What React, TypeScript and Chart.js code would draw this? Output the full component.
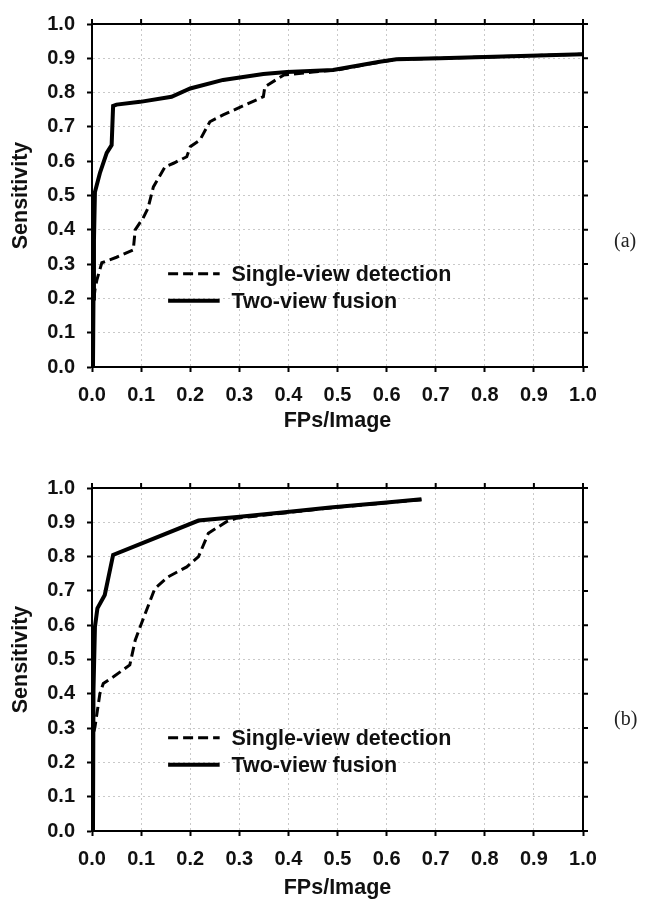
import React, { useEffect, useRef } from "react";
import { Chart, registerables } from "chart.js";

Chart.register(...registerables);

// ---------- Data ----------
const seriesLabels = ["Single-view detection", "Two-view fusion"];
const xTitle = "FPs/Image";
const yTitle = "Sensitivity";
const panelLabels = ["(a)", "(b)"];

// Panel (a)
const singleA_x = [0.004, 0.006, 0.01, 0.02, 0.05, 0.084, 0.088, 0.104, 0.114, 0.125, 0.149, 0.166, 0.193, 0.2, 0.22, 0.24, 0.267, 0.349, 0.352, 0.39, 0.45, 0.5, 0.57, 0.62, 0.709, 1.0];
const singleA_y = [0.2, 0.225, 0.254, 0.304, 0.32, 0.341, 0.4, 0.434, 0.463, 0.525, 0.584, 0.594, 0.613, 0.642, 0.662, 0.715, 0.735, 0.788, 0.817, 0.851, 0.86, 0.866, 0.885, 0.897, 0.9, 0.912];
const fusionA_x = [0.002, 0.003, 0.004, 0.006, 0.016, 0.03, 0.04, 0.043, 0.05, 0.098, 0.162, 0.2, 0.267, 0.349, 0.397, 0.491, 0.586, 0.62, 0.709, 1.0];
const fusionA_y = [0, 0.2, 0.37, 0.51, 0.565, 0.624, 0.647, 0.761, 0.765, 0.773, 0.788, 0.812, 0.837, 0.854, 0.86, 0.866, 0.89, 0.897, 0.9, 0.912];

// Panel (b)
const singleB_x = [0.004, 0.006, 0.016, 0.023, 0.043, 0.077, 0.088, 0.098, 0.128, 0.155, 0.193, 0.217, 0.237, 0.274, 0.295, 0.397, 0.485, 0.6, 0.671];
const singleB_y = [0.29, 0.303, 0.4, 0.43, 0.449, 0.484, 0.556, 0.595, 0.707, 0.741, 0.77, 0.8, 0.868, 0.902, 0.912, 0.928, 0.942, 0.957, 0.966];
const fusionB_x = [0.002, 0.003, 0.006, 0.011, 0.026, 0.043, 0.217, 0.301, 0.397, 0.485, 0.6, 0.671];
const fusionB_y = [0, 0.41, 0.595, 0.649, 0.688, 0.805, 0.905, 0.916, 0.93, 0.943, 0.958, 0.967];

const axisMin = 0;
const axisMax = 1;
const tickStep = 0.1;

// ---------- Helpers ----------
const zip = (xs: number[], ys: number[]) => xs.map((x, i) => ({ x, y: ys[i] }));

const FONT = "'Liberation Sans', Arial, Helvetica, sans-serif";

const framePlugin = {
  id: "frameTicks",
  afterDatasetsDraw(chart: any) {
    const { ctx, chartArea } = chart;
    const xs = chart.scales.x;
    const ys = chart.scales.y;
    ctx.save();
    ctx.strokeStyle = "#000";
    ctx.lineWidth = 2;
    ctx.beginPath();
    ctx.moveTo(chartArea.left - 1, chartArea.top);
    ctx.lineTo(chartArea.right, chartArea.top);
    ctx.lineTo(chartArea.right, chartArea.bottom + 1);
    ctx.stroke();
    const tl = 5;
    ctx.beginPath();
    xs.ticks.forEach((t: any) => {
      const px = xs.getPixelForValue(t.value);
      ctx.moveTo(px, chartArea.top);
      ctx.lineTo(px, chartArea.top - tl);
    });
    ys.ticks.forEach((t: any) => {
      const py = ys.getPixelForValue(t.value);
      ctx.moveTo(chartArea.right, py);
      ctx.lineTo(chartArea.right + tl, py);
    });
    ctx.stroke();
    ctx.restore();
  },
};

const legendPlugin = {
  id: "innerLegend",
  afterDraw(chart: any, _args: any, opts: any) {
    const { ctx } = chart;
    const xs = chart.scales.x;
    const ys = chart.scales.y;
    ctx.save();
    chart.data.datasets.forEach((ds: any, i: number) => {
      const y = ys.getPixelForValue(opts.rows[i]);
      const x0 = xs.getPixelForValue(opts.lineStart);
      const x1 = xs.getPixelForValue(opts.lineEnd);
      ctx.strokeStyle = ds.borderColor;
      ctx.lineWidth = ds.borderWidth;
      ctx.setLineDash(ds.borderDash || []);
      ctx.beginPath();
      ctx.moveTo(x0, y);
      ctx.lineTo(x1, y);
      ctx.stroke();
      ctx.setLineDash([]);
      ctx.fillStyle = "#111";
      ctx.font = `bold 21.5px ${FONT}`;
      ctx.textBaseline = "middle";
      ctx.textAlign = "left";
      ctx.fillText(ds.label, xs.getPixelForValue(opts.textStart), y + 1);
    });
    ctx.restore();
  },
};

type PanelProps = {
  single: { x: number; y: number }[];
  fusion: { x: number; y: number }[];
  height: number;
  padTop: number;
  xAxisHeight: number;
  titlePadBottom: number;
};

function Panel({ single, fusion, height, padTop, xAxisHeight, titlePadBottom }: PanelProps) {
  const ref = useRef<HTMLCanvasElement | null>(null);
  useEffect(() => {
    if (!ref.current) return;
    const gridCommon = {
      color: "#c9c9c9",
      lineWidth: 1,
      tickColor: "#000",
      tickWidth: 2,
      tickLength: 5,
      drawTicks: true,
    };
    const chart = new Chart(ref.current, {
      type: "line",
      data: {
        datasets: [
          {
            label: seriesLabels[0],
            data: single,
            borderColor: "#000",
            borderWidth: 3,
            borderDash: [10, 5],
            pointRadius: 0,
            tension: 0,
            fill: false,
          },
          {
            label: seriesLabels[1],
            data: fusion,
            borderColor: "#000",
            borderWidth: 4,
            pointRadius: 0,
            tension: 0,
            fill: false,
          },
        ],
      },
      options: {
        animation: false,
        responsive: false,
        devicePixelRatio: 1,
        layout: { padding: { left: 0, right: 69, top: padTop, bottom: 0 } },
        plugins: {
          legend: { display: false },
          tooltip: { enabled: false },
          innerLegend: { rows: [0.272, 0.193], lineStart: 0.155, lineEnd: 0.26, textStart: 0.284 },
        } as any,
        scales: {
          x: {
            type: "linear",
            min: axisMin,
            max: axisMax,
            afterFit: (s: any) => {
              s.height = xAxisHeight;
            },
            ticks: {
              stepSize: tickStep,
              padding: 11,
              color: "#111",
              font: { family: FONT, size: 20, weight: "bold" },
              callback: (v: any) => Number(v).toFixed(1),
              maxRotation: 0,
              autoSkip: false,
            },
            grid: gridCommon,
            border: { display: true, color: "#000", width: 2, dash: [2, 3] },
            title: {
              display: true,
              text: xTitle,
              color: "#111",
              font: { family: FONT, size: 21.5, weight: "bold" },
              padding: { top: 0, bottom: titlePadBottom },
            },
          },
          y: {
            type: "linear",
            min: axisMin,
            max: axisMax,
            afterFit: (s: any) => {
              s.width = 92;
            },
            ticks: {
              stepSize: tickStep,
              padding: 12,
              color: "#111",
              font: { family: FONT, size: 20, weight: "bold" },
              callback: (v: any) => Number(v).toFixed(1),
              autoSkip: false,
            },
            grid: gridCommon,
            border: { display: true, color: "#000", width: 2, dash: [2, 3] },
            title: {
              display: true,
              text: yTitle,
              color: "#111",
              font: { family: FONT, size: 21.5, weight: "bold" },
              padding: { top: 8, bottom: 0 },
            },
          },
        },
      } as any,
      plugins: [framePlugin, legendPlugin],
    });
    return () => chart.destroy();
  }, []);
  return <canvas ref={ref} width={652} height={height} style={{ display: "block", width: 652, height }} />;
}

export default function App() {
  const labelStyle: React.CSSProperties = {
    position: "absolute",
    left: 614,
    fontFamily: "'Liberation Serif', 'Times New Roman', serif",
    fontSize: 20,
    lineHeight: "20px",
    color: "#222",
  };
  return (
    <div style={{ position: "fixed", left: 0, top: 0, width: 652, height: 914, background: "#fff", overflow: "hidden" }}>
      <div style={{ position: "absolute", left: 0, top: 0 }}>
        <Panel single={zip(singleA_x, singleA_y)} fusion={zip(fusionA_x, fusionA_y)} height={450} padTop={24} xAxisHeight={83} titlePadBottom={16} />
      </div>
      <div style={{ position: "absolute", left: 0, top: 460 }}>
        <Panel single={zip(singleB_x, singleB_y)} fusion={zip(fusionB_x, fusionB_y)} height={454} padTop={28} xAxisHeight={83} titlePadBottom={13} />
      </div>
      <div style={{ ...labelStyle, top: 230 }}>{panelLabels[0]}</div>
      <div style={{ ...labelStyle, top: 708 }}>{panelLabels[1]}</div>
    </div>
  );
}
